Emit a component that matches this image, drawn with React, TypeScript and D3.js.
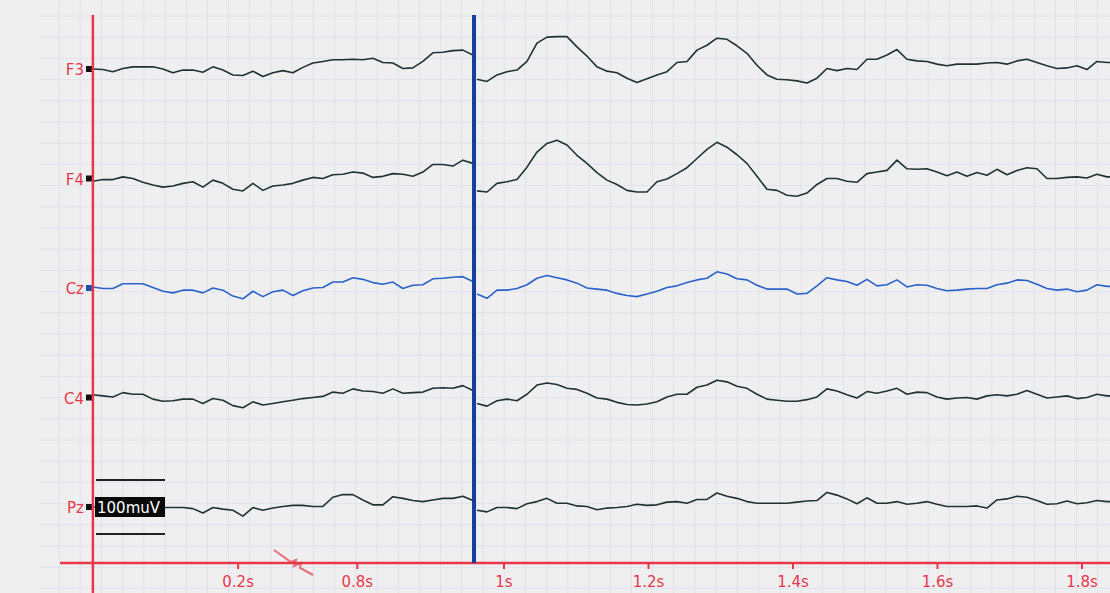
import React from "react";
import * as d3 from "d3";

const width = 1110;
const height = 593;

const channels = ["F3", "F4", "Cz", "C4", "Pz"];

// samples every 10px of the original sweep, before and after the stimulus (µV)
const preStart = 0.431;
const postStart = 0.9626;
const sampleStep = 0.01384;
const stimulusTime = 0.9585;

const f3Pre = [0, -1, -5, 1, 4, 4, 4, 0, -7, -2, -2, -6, 4, -2, -11, -12, -4, -14, -7, -3, -7, 3, 11, 14, 17, 17, 18, 17, 20, 12, 11, 1, 2, 14, 30, 31, 34, 35, 26];
const f3Post = [-19, -23, -11, -5, -2, 14, 48, 59, 60, 60, 41, 24, 4, -4, -7, -17, -25, -18, -11, -5, 12, 14, 35, 44, 57, 55, 43, 29, 7, -11, -19, -20, -22, -26, -17, 1, -3, 1, -1, 18, 18, 26, 36, 18, 15, 14, 9, 6, 9, 9, 9, 11, 12, 9, 15, 18, 12, 6, 1, 2, 6, -1, 14, 12, 12];

const f4Pre = [-5, -2, -2, 3, 0, -7, -12, -16, -14, -9, -6, -16, -3, -9, -20, -23, -9, -22, -14, -12, -9, -3, 2, 0, 7, 8, 12, 10, 2, 4, 9, 8, 4, 12, 26, 26, 23, 34, 28];
const f4Post = [-23, -25, -9, -6, -2, 21, 49, 65, 71, 62, 43, 28, 11, -3, -11, -22, -25, -25, -6, -1, 9, 20, 37, 54, 67, 58, 44, 28, 4, -20, -22, -31, -33, -27, -11, 0, 0, -5, -7, 9, 12, 15, 34, 18, 17, 18, 12, 5, 12, 4, 11, 6, 17, 7, 15, 20, 18, 0, 0, 2, 3, 1, 8, 3, 3];

const czPre = [2, -1, -1, 8, 8, 8, 1, -6, -9, -4, -4, -9, 0, -4, -15, -20, -6, -16, -7, -4, -14, -5, 0, 1, 11, 11, 19, 16, 10, 7, 11, -1, 5, 6, 17, 18, 20, 21, 12];
const czPost = [-11, -19, -4, -4, -1, 6, 18, 23, 19, 15, 9, 0, -2, -4, -10, -14, -16, -11, -6, 1, 4, 10, 15, 18, 30, 26, 17, 15, 5, -2, -2, -2, -11, -10, 4, 19, 15, 12, 5, 16, 4, 6, 15, 2, 6, 5, -1, -5, -4, -2, -1, -1, 6, 9, 15, 14, 7, -1, -4, -2, -7, -4, 6, 3, 3];

const c4Pre = [5, 3, 1, 9, 6, 6, -3, -7, -6, -3, -3, -11, -2, -5, -15, -19, -8, -14, -11, -8, -5, -2, 0, 2, 10, 8, 16, 12, 11, 8, 16, 8, 9, 10, 17, 18, 17, 22, 13];
const c4Post = [-11, -16, -6, -3, -6, 6, 23, 27, 24, 17, 15, 8, -1, -3, -9, -13, -14, -12, -8, 1, 6, 6, 19, 23, 32, 29, 21, 17, 6, -3, -5, -7, -7, -4, 1, 16, 12, 5, -1, 11, 8, 12, 17, 6, 10, 9, 1, -3, -1, 0, -3, 3, 5, 3, 6, 13, 6, -1, 1, 3, -2, 0, 6, 3, 3];

const pzPre = [0, 0, 0, 0, 0, 0, 0, -1, -1, -1, -3, -11, -1, -4, -6, -17, -1, -6, -2, 1, 3, 3, 1, 1, 18, 23, 23, 13, 4, 4, 19, 16, 12, 10, 13, 16, 16, 20, 12];
const pzPost = [-6, -9, -1, -1, -3, 6, 10, 16, 7, 7, 2, 1, -5, -2, -1, 1, 5, 3, 4, 9, 10, 7, 14, 14, 26, 20, 16, 10, 7, 7, 7, 7, 9, 11, 12, 27, 22, 15, 6, 17, 7, 7, 10, 5, 7, 10, 5, 1, 1, 1, 2, -2, 13, 15, 20, 18, 12, 5, 6, 11, 6, 8, 12, 10, 10];

const preData = [f3Pre, f4Pre, czPre, c4Pre, pzPre];
const postData = [f3Post, f4Post, czPost, c4Post, pzPost];

const tickTimes = [0.632, 0.797, 1.0, 1.2, 1.4, 1.6, 1.8];
const tickLabels = ["0.2s", "0.8s", "1s", "1.2s", "1.4s", "1.6s", "1.8s"];

const calibration = 100; // µV

const red = "#e6384a";
const font = "'DejaVu Sans', Verdana, sans-serif";

export default function App() {
  const x = d3.scaleLinear().domain([1.0, 1.8]).range([504, 1082]);
  const chan = d3.scalePoint().domain(channels).range([69, 507]);
  const amp = d3.scaleLinear().domain([-50, 50]).range([27, -27]);
  const axisY = 563;
  const axisX = x(preStart);

  const makeLine = (base, start) =>
    d3
      .line()
      .x((d, i) => x(start + i * sampleStep))
      .y((d) => base + amp(d));

  const gridX = d3.range(59, width, 21.2);
  const gridY = d3.range(16, height, 21.2);

  const pzY = chan("Pz");

  return (
    <svg width={width} height={height} style={{ position: "absolute", left: 0, top: 0 }}>
      <rect width={width} height={height} fill="#efeff0" />
      <g stroke="#e0e2eb" strokeWidth={1}>
        {gridX.map((g) => (
          <line key={"gx" + g} x1={g} x2={g} y1={0} y2={height} />
        ))}
        {gridY.map((g) => (
          <line key={"gy" + g} x1={40} x2={width} y1={g} y2={g} />
        ))}
      </g>

      {channels.map((c, k) => {
        const base = chan(c);
        const color = c === "Cz" ? "#2a62c9" : "#1f3333";
        return (
          <g key={c}>
            <path d={makeLine(base, preStart)(preData[k])} fill="none" stroke={color} strokeWidth={1.6} strokeLinejoin="round" />
            <path d={makeLine(base, postStart)(postData[k])} fill="none" stroke={color} strokeWidth={1.6} strokeLinejoin="round" />
            <text x={84} y={base + 6} textAnchor="end" fill={red} fontFamily={font} fontSize={15}>
              {c}
            </text>
            <rect x={86} y={base - 3} width={6} height={6} fill={c === "Cz" ? "#1d4fb0" : "#111"} />
          </g>
        );
      })}

      {/* calibration bar */}
      <line x1={96} x2={165} y1={pzY + amp(calibration / 2)} y2={pzY + amp(calibration / 2)} stroke="#222" strokeWidth={2} />
      <line x1={96} x2={165} y1={pzY + amp(-calibration / 2)} y2={pzY + amp(-calibration / 2)} stroke="#222" strokeWidth={2} />
      <rect x={95} y={pzY - 10} width={70} height={20} fill="#0a0a0a" />
      <text x={97} y={pzY + 6} fill="#fff" fontFamily={font} fontSize={15}>
        {calibration}muV
      </text>

      {/* axes */}
      <line x1={axisX} x2={axisX} y1={15} y2={height} stroke={red} strokeWidth={2.5} />
      <line x1={60} x2={width} y1={axisY} y2={axisY} stroke={red} strokeWidth={2.5} />
      {tickTimes.map((t, i) => (
        <g key={tickLabels[i]}>
          <line x1={x(t)} x2={x(t)} y1={axisY} y2={axisY + 6} stroke={red} strokeWidth={2} />
          <text x={x(t)} y={axisY + 24} textAnchor="middle" fill={red} fontFamily={font} fontSize={15}>
            {tickLabels[i]}
          </text>
        </g>
      ))}
      <path d="M274,550 L291,562 L296,560 L294,566 L301,563 L300,568 L313,575" fill="none" stroke={red} strokeOpacity={0.7} strokeWidth={2} />

      {/* stimulus marker */}
      <line x1={x(stimulusTime)} x2={x(stimulusTime)} y1={15} y2={axisY} stroke="#1340a0" strokeWidth={4} />
    </svg>
  );
}
